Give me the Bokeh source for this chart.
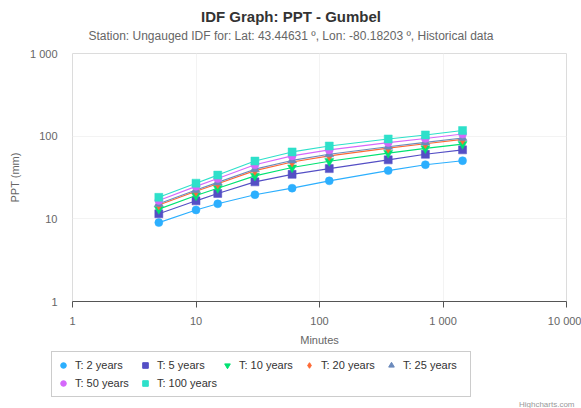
from bokeh.plotting import figure
from bokeh.layouts import column
from bokeh.models import Legend, LegendItem, Label, FixedTicker, ColumnDataSource
from bokeh.embed import file_html
from bokeh.resources import INLINE

# Storm durations (minutes)
durations = [5, 10, 15, 30, 60, 120, 360, 720, 1440]

# Precipitation depth (mm) per return period
ppt_2yr = [9.0, 12.8, 15.2, 19.6, 23.5, 28.8, 38.3, 45.2, 50.5]
ppt_5yr = [11.5, 16.5, 20.3, 28.0, 34.5, 40.5, 51.7, 60.3, 68.3]
ppt_10yr = [13.1, 19.1, 23.5, 33.1, 41.7, 49.8, 62.4, 71.1, 80.1]
ppt_20yr = [14.7, 21.5, 26.6, 38.3, 48.7, 57.8, 71.6, 81.1, 91.4]
ppt_25yr = [15.2, 22.3, 27.6, 39.9, 50.9, 60.4, 74.6, 84.2, 95.0]
ppt_50yr = [16.7, 24.7, 30.7, 45.0, 57.7, 68.2, 83.6, 93.9, 106.0]
ppt_100yr = [18.2, 27.0, 33.8, 50.0, 64.5, 76.0, 92.5, 103.5, 117.0]

series_names = ["T: 2 years", "T: 5 years", "T: 10 years", "T: 20 years",
                "T: 25 years", "T: 50 years", "T: 100 years"]
series_values = [ppt_2yr, ppt_5yr, ppt_10yr, ppt_20yr, ppt_25yr, ppt_50yr, ppt_100yr]

x_ticks = [1, 10, 100, 1000, 10000]
x_tick_labels = ["1", "10", "100", "1 000", "10 000"]
y_ticks = [1, 10, 100, 1000]
y_tick_labels = ["1", "10", "100", "1 000"]

title_text = "IDF Graph: PPT - Gumbel"
subtitle_text = ("Station: Ungauged IDF for: Lat: 43.44631 \u00ba, "
                 "Lon: -80.18203 \u00ba, Historical data")
credits_text = "Highcharts.com"

colors = ["#2caffe", "#544fc5", "#00e272", "#fe6a35", "#6b8abc", "#d568fb", "#2ee0ca"]
markers = ["circle", "square", "inverted_triangle", "diamond", "triangle", "circle", "square"]
marker_sizes = [8, 8, 9, 10, 9, 8, 8]

FONT = "Liberation Sans"
PAGE_W = 581
HEADER_H = 46
MAIN_H = 304
LEGEND_H = 58


def strip(height):
    """A bare figure whose data units are page pixels (y measured upward)."""
    f = figure(width=PAGE_W, height=height, x_range=(0, PAGE_W), y_range=(0, height),
               title=None, output_backend="svg", toolbar_location=None,
               min_border=0, min_border_left=0, min_border_right=0,
               min_border_top=0, min_border_bottom=0,
               x_axis_location=None, y_axis_location=None,
               outline_line_color=None, background_fill_color="white",
               border_fill_color="white")
    f.grid.grid_line_color = None
    f.frame_align = False
    return f


# ---------------------------------------------------------------- header
header = strip(HEADER_H)
header.add_layout(Label(x=PAGE_W / 2, y=HEADER_H - 16, text=title_text,
                        text_align="center", text_baseline="middle",
                        text_font=FONT, text_font_size="15px",
                        text_font_style="bold", text_color="#333333"))
header.add_layout(Label(x=PAGE_W / 2, y=HEADER_H - 35, text=subtitle_text,
                        text_align="center", text_baseline="middle",
                        text_font=FONT, text_font_size="12px",
                        text_color="#666666"))

# ---------------------------------------------------------------- main chart
p = figure(width=PAGE_W, height=MAIN_H, x_axis_type="log", y_axis_type="log",
           x_range=(1, 10000), y_range=(1, 1000), title=None,
           output_backend="svg", toolbar_location=None,
           min_border_left=72, min_border_right=15,
           min_border_top=7, min_border_bottom=49,
           background_fill_color="white", border_fill_color="white",
           outline_line_color="#dcdcdc", outline_line_width=1)
p.frame_align = False

for vals, col, mk, sz in zip(series_values, colors, markers, marker_sizes):
    src = ColumnDataSource(dict(x=durations, y=vals))
    p.line("x", "y", source=src, line_color=col, line_width=1.1)
    p.scatter("x", "y", source=src, marker=mk, size=sz,
              fill_color=col, line_color=col, line_width=0.5)

xt = FixedTicker(ticks=x_ticks)
yt = FixedTicker(ticks=y_ticks)
p.xaxis.ticker = xt
p.yaxis.ticker = yt
p.xgrid.ticker = xt
p.ygrid.ticker = yt
p.xaxis.major_label_overrides = {t: s for t, s in zip(x_ticks, x_tick_labels)}
p.yaxis.major_label_overrides = {t: s for t, s in zip(y_ticks, y_tick_labels)}

for ax in (p.xaxis, p.yaxis):
    ax.major_label_text_font = FONT
    ax.major_label_text_font_size = "11px"
    ax.major_label_text_color = "#666666"
    ax.axis_label_text_font = FONT
    ax.axis_label_text_font_size = "11px"
    ax.axis_label_text_color = "#666666"
    ax.axis_label_text_font_style = "normal"
    ax.minor_tick_line_color = None

p.xaxis.axis_label = "Minutes"
p.xaxis.axis_line_color = "#555555"
p.xaxis.major_tick_line_color = "#555555"
p.xaxis.major_tick_in = 0
p.xaxis.major_tick_out = 6
p.xaxis.major_label_standoff = 7
p.xaxis.axis_label_standoff = 4

p.yaxis.axis_label = "PPT (mm)"
p.yaxis.axis_line_color = None
p.yaxis.major_tick_line_color = None
p.yaxis.major_label_standoff = 9
p.yaxis.axis_label_standoff = 6

p.xgrid.grid_line_color = "#f3f3f3"
p.ygrid.grid_line_color = "#f3f3f3"

# ---------------------------------------------------------------- legend strip
lg = strip(LEGEND_H)
nan = float("nan")
legend_items = []
for name, col, mk in zip(series_names, colors, markers):
    key = lg.scatter(x=[nan], y=[nan], marker=mk, fill_color=col, line_color=col)
    legend_items.append(LegendItem(label=name, renderers=[key]))

legend = Legend(items=legend_items, orientation="horizontal", ncols=5,
                location=(51, 11), margin=0, padding=4, spacing=0,
                glyph_width=14, glyph_height=18, label_height=18,
                label_width=63, label_standoff=5,
                label_text_font=FONT, label_text_font_size="11px",
                label_text_color="#333333",
                border_line_color="#999999", border_line_width=1,
                background_fill_color="white", background_fill_alpha=1)
lg.add_layout(legend)

lg.add_layout(Label(x=574, y=4, text=credits_text, text_align="right",
                    text_baseline="alphabetic", text_font=FONT,
                    text_font_size="8px", text_color="#999999"))

open("out.html", "w").write(file_html(column(header, p, lg, spacing=0), INLINE))
